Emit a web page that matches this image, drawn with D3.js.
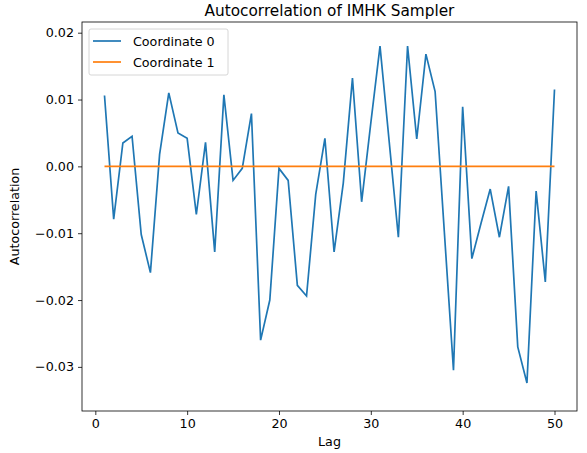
<!DOCTYPE html>
<html>
<head>
<meta charset="utf-8">
<script src="https://cdn.jsdelivr.net/npm/d3@7"></script>
<style>
body { margin: 0; background: #fff; }
text { font-family: "DejaVu Sans", sans-serif; }
</style>
</head>
<body>
<div id="chart"></div>
<script>
// autocorrelation per lag
var lags = d3.range(1, 51);
var coord0 = [0.0106, -0.0079, 0.0035, 0.0045, -0.0102, -0.0159, 0.0018, 0.011, 0.005, 0.0042,
    -0.0072, 0.0036, -0.0128, 0.0107, -0.0021, -0.0003, 0.0079, -0.026, -0.02, -0.0003,
    -0.0021, -0.0178, -0.0194, -0.0042, 0.0042, -0.0128, -0.0025, 0.0132, -0.0053, 0.0065,
    0.018, 0.0037, -0.0106, 0.018, 0.0041, 0.0168, 0.0112, -0.0097, -0.0305, 0.0089,
    -0.0138, -0.0085, -0.0034, -0.0106, -0.003, -0.027, -0.0324, -0.0037, -0.0173, 0.0115];
var coord1 = lags.map(function () { return 0; });
var seriesNames = ["Coordinate 0", "Coordinate 1"];
var colors = ["#1f77b4", "#ff7f0e"];
var xTicks = [0, 10, 20, 30, 40, 50];
var yTicks = [-0.03, -0.02, -0.01, 0.00, 0.01, 0.02];

var margin = {top: 22, right: 10, bottom: 42, left: 82};
var width = 587 - margin.left - margin.right,
    height = 453 - margin.top - margin.bottom;

var svg = d3.select("#chart").append("svg")
    .attr("width", 587)
    .attr("height", 453)
    .append("g")
    .attr("transform", "translate(" + margin.left + "," + margin.top + ")");

var x = d3.scaleLinear().domain([-1.45, 52.45]).range([0, width]);
var y = d3.scaleLinear().domain([-0.0366, 0.0216]).range([height, 0]);

var xAxis = svg.append("g")
    .attr("transform", "translate(0," + height + ")")
    .call(d3.axisBottom(x).tickValues(xTicks).tickSize(4).tickPadding(4));
var yAxis = svg.append("g")
    .call(d3.axisLeft(y).tickValues(yTicks).tickSize(4).tickPadding(4).tickFormat(d3.format(".2f")));
[xAxis, yAxis].forEach(function (g) {
    g.select(".domain").remove();
    g.selectAll("text").attr("font-size", 12.7).attr("fill", "#000");
    g.selectAll("line").attr("stroke", "#000").attr("stroke-width", 0.8);
});

var line = d3.line()
    .x(function (d, i) { return x(lags[i]); })
    .y(function (d) { return y(d); });

[coord0, coord1].forEach(function (s, i) {
    svg.append("path")
        .datum(s)
        .attr("fill", "none")
        .attr("stroke", colors[i])
        .attr("stroke-width", 1.7)
        .attr("d", line);
});

svg.append("rect")
    .attr("width", width).attr("height", height)
    .attr("fill", "none").attr("stroke", "#000").attr("stroke-width", 0.8);

svg.append("text")
    .attr("x", width / 2).attr("y", -6)
    .attr("text-anchor", "middle").attr("font-size", 15.3)
    .text("Autocorrelation of IMHK Sampler");
svg.append("text")
    .attr("x", width / 2).attr("y", height + 35)
    .attr("text-anchor", "middle").attr("font-size", 12.7)
    .text("Lag");
svg.append("text")
    .attr("transform", "translate(-63," + height / 2 + ") rotate(-90)")
    .attr("text-anchor", "middle").attr("font-size", 12.7)
    .text("Autocorrelation");

// legend
var legend = svg.append("g").attr("transform", "translate(7,7)");
legend.append("rect")
    .attr("width", 139).attr("height", 46).attr("rx", 2)
    .attr("fill", "#fff").attr("fill-opacity", 0.8)
    .attr("stroke", "#ccc").attr("stroke-width", 0.8);
seriesNames.forEach(function (name, i) {
    var row = legend.append("g").attr("transform", "translate(4," + (12 + i * 21) + ")");
    row.append("line").attr("x1", 0).attr("x2", 28)
        .attr("stroke", colors[i]).attr("stroke-width", 1.7);
    row.append("text").attr("x", 40).attr("y", 4.5)
        .attr("font-size", 12.7).text(name);
});
</script>
</body>
</html>
